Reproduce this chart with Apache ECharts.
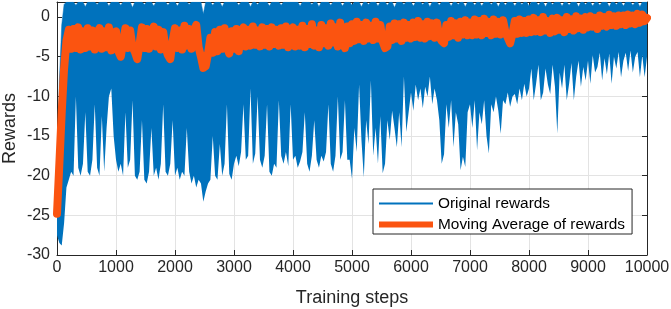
<!DOCTYPE html>
<html>
<head>
<meta charset="utf-8">
<title>Rewards</title>
<script src="https://cdn.jsdelivr.net/npm/echarts@6/dist/echarts.min.js"></script>
<style>
html, body { margin: 0; padding: 0; background: #fff; }
#main { width: 671px; height: 309px; }
</style>
</head>
<body>
<div id="main"></div>
<script>
// one sample every 40 training steps, 0 .. 10000
var sampleEvery = 40;

// lowest value reached by the original rewards around each sample
var rewardLow = [
  -27.5, -28.5, -28.8, -26, -21.5, -20.5, -19.5, -20, -10, -19, -20, -18.5, -12, -19.5, -20, -18, -11, -19, -20, -12.5, -19.5, -14, -10, -9, -15,
  -18, -19.5, -18.5, -20, -12, -19, -18, -10.5, -20, -20.5, -19.5, -13, -20.5, -21, -19.5, -14, -20, -19, -20.5, -18.5, -11, -19.5, -20, -18.5, -13,
  -20, -19, -20.5, -19.5, -20, -14, -19.5, -21, -20, -21.5, -20.5, -21, -23.3, -22, -21, -20.5, -15, -20, -20.5, -16, -20, -18.5, -11, -19.8, -20.5,
  -18.5, -17.5, -18.8, -17, -11, -18, -17.5, -9, -18.5, -17.2, -10, -18, -19, -17.5, -11, -19.5, -20, -18.5, -19, -10.5, -17.5, -18.5, -17, -18.8, -11,
  -18, -17.5, -19, -18.2, -17, -12, -18.5, -19.5, -17.5, -13, -18, -19, -17.5, -18.2, -17, -11, -18.5, -19.5, -17.5, -10, -18, -17, -10.5, -18, -18,
  -20.4, -14, -17, -8.5, -15.5, -20.2, -13, -16, -8, -17.5, -14, -18.5, -12.5, -19.7, -18.5, -13, -15.5, -11.8, -14, -16.4, -12, -16.4, -7.5, -14.5, -12,
  -9.5, -11.8, -8.5, -10.5, -9, -11.5, -8.8, -10, -7.5, -11, -9, -10.5, -13, -18.5, -17.3, -11, -14, -10.5, -16.4, -12, -13.5, -19.3, -17.6, -18.9, -12,
  -11, -14, -10.5, -16.8, -12, -13.5, -10.5, -15, -17.2, -11, -12, -10, -11.8, -14.7, -10.5, -11, -9.5, -11.3, -10, -9.7, -11, -9, -10.5, -8.4, -10,
  -9, -6.5, -10.5, -8.4, -6, -10.5, -9.5, -6.5, -8.5, -9.7, -6, -8.8, -14.7, -7, -9, -6, -10.5, -8.4, -5.8, -10.5, -7.5, -5.5, -8.8, -6.3, -8,
  -5.5, -8.4, -4.8, -7, -6.3, -4.5, -8, -5.2, -7.2, -4.6, -8.4, -5, -6.5, -4.4, -7.6, -5.5, -4.5, -6.8, -4.2, -7, -5, -4.4, -7.6, -4.8, -7.6, -5
];

// highest value reached by the original rewards around each sample
var rewardHigh = [
  -22, -8, -1, 1.6, 1.9, 1.9, 1.9, 1.9, 1.5, 1.9, 1.9, 1.9, 1.3, 1.9, 1.9, 1.9, 1.9, 1.6, 1.9, 1.9, 1.9, 1.9, 1.4, 1.9, 1.9,
  1.9, 1.9, 1.5, 1.9, 1.9, 1.9, 1.9, 1.2, 1.9, 1.9, 1.9, 1.9, 1.6, 1.9, 1.9, 1.9, 1.4, 1.9, 1.9, 1.9, 1.9, 1.9, 1.5, 1.9, 1.9,
  1.9, 1.4, 1.9, 1.9, 1.9, 1.9, 1.6, 1.9, 1.9, 1.9, 1.9, 1.9, 0.4, 1.9, 1.9, 1.9, 1.5, 1.9, 1.9, 1.9, 1.3, 1.9, 1.9, 1.9, 1.9,
  1.9, 1.9, 1.5, 1.9, 1.9, 1.9, 1.9, 1.3, 1.9, 1.9, 1.6, 1.9, 1.9, 1.9, 1.9, 1.4, 1.9, 1.9, 1.9, 1.9, 1.5, 1.9, 1.9, 1.9, 1.9,
  1.9, 1.9, 1.9, 1.4, 1.9, 1.9, 1.9, 1.9, 1.6, 1.9, 1.9, 1.3, 1.9, 1.9, 1.9, 1.9, 1.5, 1.9, 1.9, 1.9, 1.9, 1.4, 1.9, 1.9, 1.9,
  1.5, 1.9, 1.9, 1.9, 1.3, 1.9, 1.9, 1.6, 1.9, 1.9, 1.9, 1.4, 1.9, 1.9, 1.9, 1.5, 1.9, 1.9, 1.2, 1.9, 1.9, 1.9, 1.6, 1.9, 1.9,
  1.9, 1.4, 1.9, 1.9, 1.9, 1.6, 1.9, 1.9, 1.3, 1.9, 1.9, 1.9, 1.5, 1.9, 1.9, 1.9, 1.9, 1.4, 1.9, 1.9, 1.6, 1.9, 1.9, 1.3, 1.9,
  1.9, 1.9, 1.5, 1.9, 1.9, 1.4, 1.9, 1.9, 1.9, 1.6, 1.9, 1.9, 1.3, 1.9, 1.9, 1.5, 1.9, 1.9, 1.9, 1.4, 1.9, 1.9, 1.6, 1.9, 1.9,
  1.4, 1.9, 1.9, 1.9, 1.5, 1.9, 1.9, 1.3, 1.9, 1.9, 1.6, 1.9, 1.9, 1.9, 1.4, 1.9, 1.9, 1.5, 1.9, 1.9, 1.9, 1.3, 1.9, 1.9, 1.6,
  1.9, 1.9, 1.4, 1.9, 1.9, 1.5, 1.9, 1.9, 1.9, 1.3, 1.9, 1.9, 1.6, 1.9, 1.9, 1.4, 1.9, 1.9, 1.9, 1.5, 1.9, 1.9, 1.3, 1.9, 1.9, 1.9
];

// moving average of rewards
var movingAvg = [
  -24.8, -18.5, -12, -6.5, -3, -1.6, -4.0, -1.5, -3.9, -1.3, -4.1, -1.8, -3.9, -1.4, -3.7, -1.7, -4.1, -2.0, -1.4, -4.0, -1.8, -3.8, -1.3, -4.2, -2.0,
  -1.8, -4.3, -5.0, -3.2, -1.4, -3.9, -1.7, -3.8, -4.4, -5.3, -3.4, -1.3, -3.9, -1.5, -4.0, -1.8, -1.2, -3.7, -1.6, -4.1, -1.9, -3.9, -4.8, -5.3, -3.0,
  -1.4, -3.9, -1.7, -4.1, -1.1, -3.6, -1.5, -4.0, -1.8, -1.0, -3.8, -5.0, -6.4, -6.2, -4.6, -2.6, -4.5, -1.9, -4.3, -1.6, -4.0, -1.4, -3.8, -4.6, -1.8,
  -4.0, -1.5, -4.3, -2.0, -1.3, -3.7, -1.6, -3.6, -1.2, -3.5, -1.7, -3.7, -1.3, -3.5, -1.5, -3.7, -1.3, -3.4, -1.6, -3.6, -1.4, -3.5, -1.2, -3.8, -1.8,
  -1.3, -3.7, -1.6, -3.6, -1.1, -3.8, -1.5, -3.4, -0.9, -3.6, -1.7, -3.8, -1.0, -3.3, -1.4, -3.6, -0.8, -3.2, -1.3, -3.7, -0.7, -3.1, -3.9, -1.2, -3.3,
  -0.9, -3.0, -0.6, -2.8, -1.0, -3.0, -0.7, -2.7, -1.1, -2.9, -0.6, -2.7, -1.0, -3.1, -3.9, -3.7, -1.2, -2.9, -0.8, -2.7, -0.9, -3.0, -0.7, -2.6, -1.0,
  -2.7, -0.7, -2.5, -0.5, -2.6, -0.9, -2.7, -0.6, -2.4, -0.8, -2.6, -0.7, -2.5, -3.0, -3.3, -1.0, -2.5, -0.5, -2.3, -0.8, -2.6, -0.6, -2.2, -0.4, -2.3,
  -0.7, -2.3, -0.3, -2.2, -0.5, -2.3, -0.2, -2.0, -0.6, -2.3, -0.3, -2.1, -0.6, -2.2, -0.4, -1.9, -2.6, -3.3, -2.1, -0.5, -2.1, -0.3, -2.0, -0.5, -2.0,
  -0.3, -1.9, -0.1, -1.8, -0.4, -1.9, 0.0, -1.7, -0.5, -2.0, -0.2, -1.8, -0.1, -1.6, -0.4, -1.9, 0.0, -1.5, -0.3, -1.7, 0.1, -1.4, -0.2, -1.6, 0.0,
  -1.3, 0.1, -1.2, -0.1, -1.5, 0.2, -1.1, 0.0, -1.2, 0.3, -1.0, 0.1, -1.1, 0.2, -0.9, 0.2, -1.0, 0.3, -0.8, 0.2, -0.9, 0.4, -0.7, 0.3, -0.5, -0.1
];

var font = 'Arial, "Liberation Sans", Helvetica, sans-serif';
var axisColor = '#262626';
var blue = '#0072BD';
var orange = '#FB5410';

// steps for each sample, and the band height stacked on the low edge
var steps = [], bandData = [], avgData = [];
for (var i = 0; i < rewardLow.length; i++) {
  steps.push(i * sampleEvery);
  bandData.push(rewardHigh[i] - rewardLow[i]);
  avgData.push([i * sampleEvery, movingAvg[i]]);
}

var myChart = echarts.init(document.getElementById('main'));

// top and right axes only close the box
var boxAxis = {
  axisLine: { show: true, onZero: false, lineStyle: { color: axisColor, width: 1 } },
  axisTick: { show: true, inside: true, length: 5, lineStyle: { color: axisColor } },
  axisLabel: { show: false },
  splitLine: { show: false }
};

var option = {
  animation: false,
  backgroundColor: '#fff',
  grid: { left: 57, right: 24, top: 2, bottom: 54, outerBoundsMode: 'none' },
  legend: {
    orient: 'vertical',
    left: 373,
    top: 189,
    selectedMode: false,
    data: [
      { name: 'Original rewards', icon: 'path://M0,0H54V2H0Z' },
      { name: 'Moving Average of rewards', icon: 'path://M0,0H54V6H0Z' }
    ],
    itemWidth: 54,
    itemHeight: 14,
    itemGap: 6,
    padding: [7, 7, 2, 6],
    backgroundColor: '#fff',
    borderColor: axisColor,
    borderWidth: 1,
    borderRadius: 0,
    itemStyle: { borderWidth: 0 },
    textStyle: { fontSize: 15.4, color: '#000', fontFamily: font }
  },
  xAxis: [
    {
      type: 'value', min: 0, max: 10000, interval: 1000, position: 'bottom',
      axisLine: { show: true, onZero: false, lineStyle: { color: axisColor, width: 1 } },
      axisTick: { show: true, inside: true, length: 5, lineStyle: { color: axisColor } },
      axisLabel: {
        fontSize: 16, color: axisColor, margin: 5, fontFamily: font,
        formatter: function (v) { return String(v); }
      },
      splitLine: { show: true, lineStyle: { color: '#E3E3E3', width: 1 } },
      name: 'Training steps', nameLocation: 'middle', nameGap: 34, nameMoveOverlap: false,
      nameTextStyle: { fontSize: 18, color: axisColor, fontFamily: font }
    },
    Object.assign({ type: 'value', min: 0, max: 10000, interval: 1000, position: 'top' }, boxAxis),
    // hidden sample axis that carries the stacked reward band
    { type: 'category', data: steps, boundaryGap: false, show: false }
  ],
  yAxis: [
    {
      type: 'value', min: -30, max: 1.9, interval: 5, position: 'left',
      axisLine: { show: true, onZero: false, lineStyle: { color: axisColor, width: 1 } },
      axisTick: { show: true, inside: true, length: 5, lineStyle: { color: axisColor } },
      axisLabel: { fontSize: 16, color: axisColor, margin: 7, fontFamily: font, showMaxLabel: false },
      splitLine: { show: true, lineStyle: { color: '#E3E3E3', width: 1 } },
      name: 'Rewards', nameLocation: 'middle', nameGap: 38, nameRotate: 90, nameMoveOverlap: false,
      nameTextStyle: { fontSize: 18, color: axisColor, fontFamily: font }
    },
    Object.assign({ type: 'value', min: -30, max: 1.9, interval: 5, position: 'right' }, boxAxis)
  ],
  series: [
    {
      name: 'rewardLow', type: 'line', data: rewardLow, xAxisIndex: 2,
      stack: 'raw', stackStrategy: 'all',
      symbol: 'none', silent: true,
      lineStyle: { width: 0, opacity: 0 }, z: 2
    },
    {
      name: 'Original rewards', type: 'line', data: bandData, xAxisIndex: 2,
      stack: 'raw', stackStrategy: 'all',
      symbol: 'none', color: blue,
      lineStyle: { width: 0.5, color: blue },
      areaStyle: { color: blue, opacity: 1 }, z: 2
    },
    {
      name: 'Moving Average of rewards', type: 'line', data: avgData,
      symbol: 'none', color: orange, clip: false,
      lineStyle: { width: 8, color: orange, cap: 'round', join: 'round' }, z: 3
    }
  ]
};

myChart.setOption(option);
</script>
</body>
</html>
